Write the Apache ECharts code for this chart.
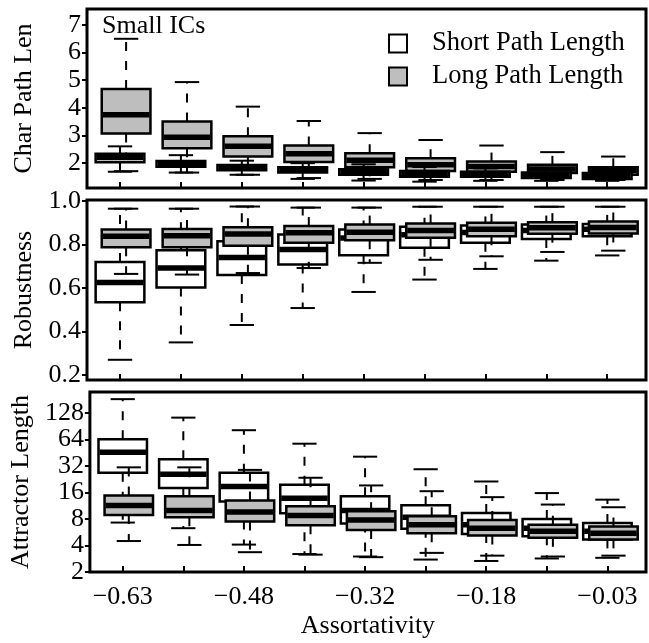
<!DOCTYPE html>
<html>
<head>
<meta charset="utf-8">
<script src="https://cdn.jsdelivr.net/npm/echarts@6/dist/echarts.min.js"></script>
<style>
html, body { margin: 0; padding: 0; background: #fff; }
#chart { width: 649px; height: 643px; }
</style>
</head>
<body>
<div id="chart"></div>
<script>
// box positions along the x axis (one per assortativity level)
var positions = [1, 2, 3, 4, 5, 6, 7, 8, 9];
var labelPos = [1, 3, 5, 7, 9];
var xLabels = ['\u22120.63', '\u22120.48', '\u22120.32', '\u22120.18', '\u22120.03'];

// each row: [lower whisker, Q1, median, Q3, upper whisker]
var pathShort = [
    [1.68, 2.02, 2.20, 2.33, 2.60], [1.65, 1.86, 1.96, 2.07, 2.28], [1.57, 1.73, 1.82, 1.92, 2.08],
    [1.42, 1.65, 1.74, 1.84, 1.99], [1.36, 1.57, 1.67, 1.77, 1.95], [1.32, 1.50, 1.60, 1.71, 1.85],
    [1.35, 1.50, 1.59, 1.68, 1.80], [1.35, 1.45, 1.55, 1.65, 1.75], [1.35, 1.42, 1.52, 1.63, 1.72]
];
var pathLong = [
    [1.70, 3.07, 3.75, 4.68, 6.50], [1.65, 2.53, 2.93, 3.50, 4.93], [1.57, 2.23, 2.60, 2.97, 4.04],
    [1.45, 2.03, 2.33, 2.63, 3.52], [1.42, 1.84, 2.10, 2.35, 3.08], [1.38, 1.71, 1.93, 2.17, 2.83],
    [1.38, 1.68, 1.87, 2.05, 2.63], [1.38, 1.63, 1.78, 1.93, 2.39], [1.38, 1.57, 1.72, 1.84, 2.23]
];
var robShort = [
    [0.270, 0.535, 0.626, 0.720, 0.965], [0.350, 0.603, 0.692, 0.774, 0.965], [0.430, 0.660, 0.741, 0.815, 0.975],
    [0.508, 0.708, 0.777, 0.846, 0.970], [0.582, 0.751, 0.830, 0.869, 0.970], [0.639, 0.785, 0.845, 0.882, 0.974],
    [0.688, 0.808, 0.855, 0.888, 0.974], [0.726, 0.826, 0.865, 0.892, 0.974], [0.750, 0.838, 0.870, 0.895, 0.974]
];
var robLong = [
    [0.665, 0.788, 0.838, 0.869, 0.965], [0.662, 0.788, 0.840, 0.872, 0.965], [0.669, 0.795, 0.849, 0.880, 0.975],
    [0.692, 0.808, 0.854, 0.885, 0.970], [0.716, 0.820, 0.857, 0.892, 0.970], [0.730, 0.831, 0.865, 0.897, 0.974],
    [0.746, 0.838, 0.870, 0.900, 0.974], [0.766, 0.850, 0.877, 0.903, 0.974], [0.772, 0.851, 0.878, 0.906, 0.974]
];
var attShort = [
    [7.3, 26.9, 46, 64.7, 185], [6.3, 18.1, 25.8, 38.3, 114], [4.1, 12.7, 18.8, 26.9, 82],
    [3.2, 9.3, 13.8, 19.7, 57.6], [3.0, 7.1, 10, 14.5, 41], [2.77, 6.2, 8.4, 11.5, 29.5],
    [2.67, 5.4, 6.9, 9.4, 21.4], [2.85, 5.1, 6.3, 8.0, 15.8], [2.9, 4.7, 5.8, 7.2, 13.3]
];
var attLong = [
    [4.5, 8.9, 11.4, 14.8, 31], [4.06, 8.4, 10, 14.5, 31], [3.36, 7.5, 9.6, 13, 29],
    [3.15, 6.8, 8.8, 11.2, 23.6], [2.95, 6.0, 7.8, 9.8, 19.3], [3.3, 5.5, 6.9, 8.6, 16.6],
    [3.07, 5.2, 6.3, 7.8, 14.2], [3.0, 4.9, 5.8, 6.9, 11.7], [3.07, 4.7, 5.5, 6.6, 10.9]
];

var pathTicks = [2, 3, 4, 5, 6, 7];
var robTicks = [0.2, 0.4, 0.6, 0.8, 1.0];
var attTicks = [2, 4, 8, 16, 32, 64, 128];

var FONT = 'Liberation Serif';
var GRAY = '#bebebe';

function boxData(rows) {
    return rows.map(function(r, i) { return [positions[i]].concat(r); });
}

// draws one R-style box: dashed whiskers, caps, box, thick median
function boxRenderer(offset) {
    return function(params, api) {
        var x = api.value(0) + offset;
        var lo = api.value(1), q1 = api.value(2), med = api.value(3), q3 = api.value(4), hi = api.value(5);
        var left = api.coord([x - 0.4, med])[0];
        var right = api.coord([x + 0.4, med])[0];
        var cx = (left + right) / 2;
        var half = (right - left) / 4;
        var yLo = api.coord([x, lo])[1], yQ1 = api.coord([x, q1])[1], yMed = api.coord([x, med])[1];
        var yQ3 = api.coord([x, q3])[1], yHi = api.coord([x, hi])[1];
        var fill = api.visual('color');
        var dashed = { stroke: '#000', lineWidth: 2, lineDash: [9, 10] };
        var solid = { stroke: '#000', lineWidth: 2 };
        return {
            type: 'group',
            children: [
                { type: 'line', shape: { x1: cx, y1: yQ3, x2: cx, y2: yHi }, style: dashed },
                { type: 'line', shape: { x1: cx, y1: yQ1, x2: cx, y2: yLo }, style: dashed },
                { type: 'line', shape: { x1: cx - half, y1: yHi, x2: cx + half, y2: yHi }, style: solid },
                { type: 'line', shape: { x1: cx - half, y1: yLo, x2: cx + half, y2: yLo }, style: solid },
                { type: 'rect', shape: { x: left, y: yQ3, width: right - left, height: yQ1 - yQ3 },
                  style: { fill: fill, stroke: '#000', lineWidth: 2.5 } },
                { type: 'line', shape: { x1: left + 1, y1: yMed, x2: right - 1, y2: yMed },
                  style: { stroke: '#000', lineWidth: 5.5 } }
            ]
        };
    };
}

function boxSeries(name, idx, rows, color, offset, z) {
    return {
        type: 'custom',
        name: name,
        xAxisIndex: idx,
        yAxisIndex: idx,
        z: z,
        itemStyle: { color: color, borderColor: '#000', borderWidth: 2 },
        encode: { x: 0, y: [1, 2, 3, 4, 5] },
        renderItem: boxRenderer(offset),
        data: boxData(rows),
        silent: true
    };
}

function xAxis(idx, withLabels) {
    return {
        type: 'value',
        gridIndex: idx,
        min: 0.458,
        max: 9.637,
        splitLine: { show: false },
        axisLine: { show: false },
        axisTick: { show: true, inside: true, length: 6, lineStyle: { color: '#000', width: 2 }, customValues: positions },
        axisLabel: {
            show: withLabels,
            customValues: labelPos,
            margin: 12,
            color: '#000',
            fontFamily: FONT,
            fontSize: 26,
            formatter: function(v) { return xLabels[labelPos.indexOf(Math.round(v))] || ''; }
        },
        name: withLabels ? 'Assortativity' : '',
        nameLocation: 'middle',
        nameGap: 41,
        nameTextStyle: { color: '#000', fontFamily: FONT, fontSize: 26 }
    };
}

function yAxis(idx, name, extra) {
    var ax = {
        type: 'value',
        gridIndex: idx,
        name: name,
        nameLocation: 'middle',
        nameGap: 50,
        nameTextStyle: { color: '#000', fontFamily: FONT, fontSize: 26 },
        splitLine: { show: false },
        axisLine: { show: false },
        axisTick: { show: true, inside: false, length: 5, lineStyle: { color: '#000', width: 2 } },
        axisLabel: { margin: 6, color: '#000', fontFamily: FONT, fontSize: 26 }
    };
    for (var k in extra) ax[k] = extra[k];
    return ax;
}

var chart = echarts.init(document.getElementById('chart'));

var yPath = yAxis(0, 'Char Path Len', { min: 1.09, max: 7.58 });
yPath.axisTick.customValues = pathTicks;
yPath.axisLabel.customValues = pathTicks;

var yRob = yAxis(1, 'Robustness', { min: 0.177, max: 1.005 });
yRob.axisTick.customValues = robTicks;
yRob.axisLabel.customValues = robTicks;
yRob.axisLabel.formatter = function(v) { return v.toFixed(1); };

var yAtt = yAxis(2, 'Attractor Length', { type: 'log', logBase: 2, min: 2, max: 223 });
yAtt.axisTick.customValues = attTicks;
yAtt.axisLabel.customValues = attTicks;

var gridStyle = { show: true, borderColor: '#000', borderWidth: 3, backgroundColor: 'transparent' };

chart.setOption({
    animation: false,
    backgroundColor: '#fff',
    title: {
        text: 'Small ICs',
        left: 102,
        top: 13,
        padding: 0,
        textStyle: { color: '#000', fontFamily: FONT, fontSize: 26, fontWeight: 'normal' }
    },
    legend: {
        orient: 'vertical',
        left: 388,
        top: 30,
        padding: 0,
        itemWidth: 18,
        itemHeight: 18,
        itemGap: 6,
        icon: 'rect',
        selectedMode: false,
        textStyle: { color: '#000', fontFamily: FONT, fontSize: 26.5, lineHeight: 26, padding: [0, 0, 0, 20] },
        data: [
            { name: 'Short Path Length', itemStyle: { color: '#fff', borderColor: '#000', borderWidth: 2 } },
            { name: 'Long Path Length', itemStyle: { color: GRAY, borderColor: '#000', borderWidth: 2 } }
        ]
    },
    grid: [
        Object.assign({ left: 87, right: 3, top: 9, height: 179 }, gridStyle),
        Object.assign({ left: 87, right: 3, top: 200, height: 180 }, gridStyle),
        Object.assign({ left: 87, right: 3, top: 392, height: 180 }, gridStyle)
    ],
    xAxis: [xAxis(0, false), xAxis(1, false), xAxis(2, true)],
    yAxis: [yPath, yRob, yAtt],
    series: [
        boxSeries('Long Path Length', 0, pathLong, GRAY, 0.1, 2),
        boxSeries('Short Path Length', 0, pathShort, '#fff', 0, 3),
        boxSeries('Short Path Length', 1, robShort, '#fff', 0, 2),
        boxSeries('Long Path Length', 1, robLong, GRAY, 0.1, 3),
        boxSeries('Short Path Length', 2, attShort, '#fff', 0, 2),
        boxSeries('Long Path Length', 2, attLong, GRAY, 0.1, 3)
    ]
});
</script>
</body>
</html>
